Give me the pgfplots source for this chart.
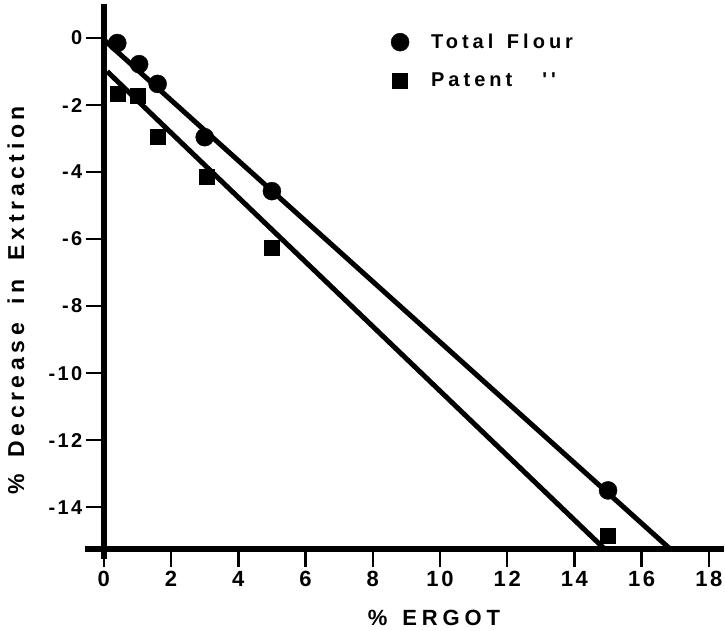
\documentclass[border=0pt]{standalone}
\usepackage{fontspec}
\setmainfont{Liberation Sans}
\newfontfamily\ylabfont{Liberation Sans}[LetterSpace=20]
\newfontfamily\xlabfont{Liberation Sans}[LetterSpace=22]
\newfontfamily\legfont{Liberation Sans}[LetterSpace=20]
\newfontfamily\tickfont{Liberation Sans}[LetterSpace=12]
\usepackage{pgfplots}
\pgfplotsset{compat=1.18}

\begin{document}
\begin{tikzpicture}
\begin{axis}[
  x=33.6pt, y=33.5pt,
  xmin=0, xmax=18.45, ymin=-15.25, ymax=1.0,
  axis lines=left,
  axis line style={draw=none},
  clip=false,
  xtick={0,2,...,18},
  ytick={-14,-12,...,0},
  xticklabels={0,2,4,6,8,10,12,14,16,18},
  yticklabels={-14,-12,-10,-8,-6,-4,-2,0},
  tick align=outside,
  major tick length=18pt,
  tick style={line width=2.5pt, black},
  xticklabel style={font=\tickfont\fontsize{22}{26}\selectfont\bfseries, yshift=-1pt},
  yticklabel style={font=\tickfont\fontsize{20}{24}\selectfont\bfseries, xshift=0pt},
  xlabel={\% \hspace{4pt}ERGOT},
  xlabel style={at={(axis cs:9.82,-17.3)}, anchor=center, font=\xlabfont\fontsize{22}{26}\selectfont\bfseries},
  ylabel={\% \hspace{5pt}Decrease\hspace{8pt} in\hspace{8pt} Extraction},
  ylabel style={at={(axis cs:-2.62,-7.82)}, anchor=center, rotate=0, font=\ylabfont\fontsize{23}{27}\selectfont\bfseries},
  legend style={at={(axis cs:8.54,0.18)}, anchor=north west, draw=none, fill=none,
    font=\legfont\fontsize{20}{24}\selectfont\bfseries, row sep=19pt, inner sep=0pt,
    /tikz/every odd column/.append style={column sep=20pt}},
  legend cell align=left,
  legend image code/.code={\draw[#1] plot coordinates {(0pt,0pt)};},
]
% fitted lines
\addplot[black, line width=5pt, forget plot] coordinates {(0,-0.05) (16.85,-15.25)};
\addplot[black, line width=5pt, forget plot] coordinates {(0.1,-1.0) (14.9,-15.25)};
% total flour
\addplot[only marks, mark=*, mark size=9pt, black] coordinates {
  (0.4,-0.15) (1.05,-0.78) (1.6,-1.37) (3.0,-2.96) (5.0,-4.57) (15.0,-13.5)
};
\addlegendentry{Total\hspace{4pt} Flour}
% patent flour
\addplot[only marks, mark=square*, mark size=7.5pt, black] coordinates {
  (0.4,-1.67) (1.0,-1.73) (1.6,-2.96) (3.05,-4.15) (5.0,-6.27) (15.0,-14.85)
};
\addlegendentry{Patent\hspace{30pt}''}
% axis lines
\draw[line width=5.5pt] (axis cs:-0.57,-15.25) -- (axis cs:18.45,-15.25);
\draw[line width=5.5pt] (axis cs:0,-15.55) -- (axis cs:0,1.0);
\coordinate (bbsw) at (axis cs:-3.09,-17.67);
\coordinate (bbne) at (axis cs:18.48,1.134);
\end{axis}
\pgfresetboundingbox
\path[use as bounding box] (bbsw) rectangle (bbne);
\end{tikzpicture}
\end{document}
